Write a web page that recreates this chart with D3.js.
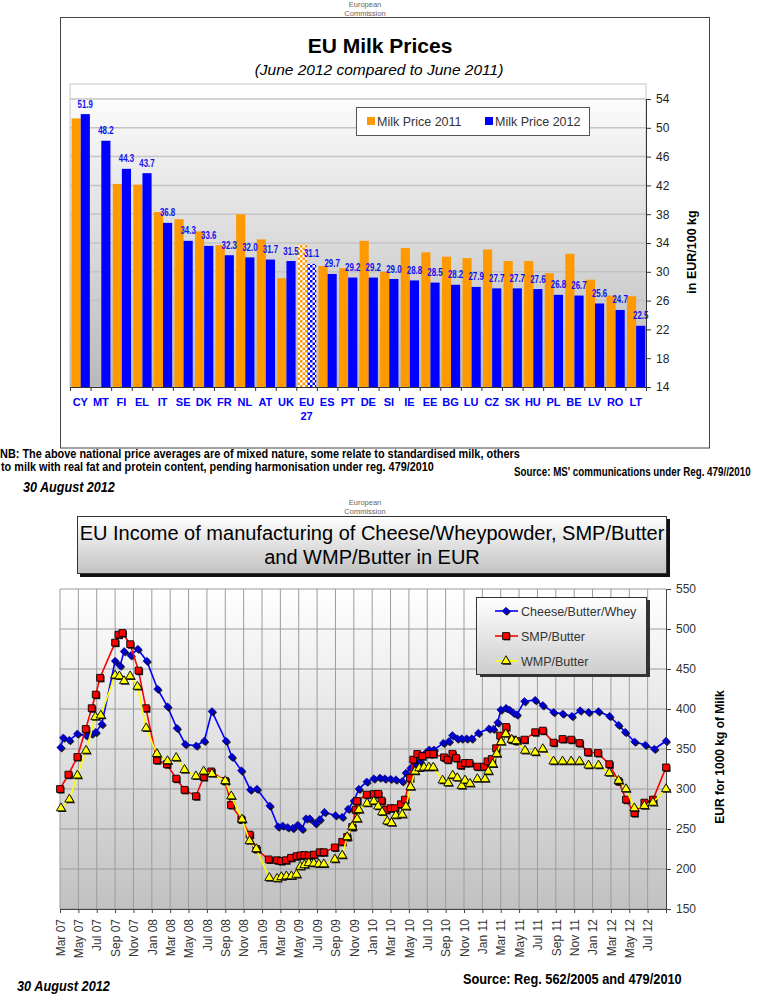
<!DOCTYPE html>
<html><head><meta charset="utf-8">
<script src="https://cdn.jsdelivr.net/npm/d3@7"></script>
<style>
body{margin:0;background:#fff}
svg{display:block}
text{font-family:"Liberation Sans",Arial,sans-serif}
</style>
</head><body>
<svg id="c" width="773" height="1000"></svg>
<script>
// ---------- DATA: EU Milk Prices ----------
const countries = ["CY","MT","FI","EL","IT","SE","DK","FR","NL","AT","UK","EU 27","ES","PT","DE","SI","IE","EE","BG","LU","CZ","SK","HU","PL","BE","LV","RO","LT"];
const price2011 = [51.3,null,42.2,42.1,38.3,37.3,35.6,33.7,38.0,34.5,29.1,33.8,30.8,30.5,34.3,30.0,33.3,32.7,32.1,31.9,33.1,31.5,31.5,29.8,32.5,28.9,26.7,26.6];
const price2012 = [51.9,48.2,44.3,43.7,36.8,34.3,33.6,32.3,32.0,31.7,31.5,31.1,29.7,29.2,29.2,29.0,28.8,28.5,28.2,27.9,27.7,27.7,27.6,26.8,26.7,25.6,24.7,22.5];
const priceSeries = ["Milk Price 2011","Milk Price 2012"];
const priceTicks = [14,18,22,26,30,34,38,42,46,50,54];

// ---------- DATA: EU Income of manufacturing (month offset from Mar 2007, EUR/1000 kg) ----------
const monthLabels = ["Mar 07","May 07","Jul 07","Sep 07","Nov 07","Jan 08","Mar 08","May 08","Jul 08","Sep 08","Nov 08","Jan 09","Mar 09","May 09","Jul 09","Sep 09","Nov 09","Jan 10","Mar 10","May 10","Jul 10","Sep 10","Nov 10","Jan 11","Mar 11","May 11","Jul 11","Sep 11","Nov 11","Jan 12","Mar 12","May 12","Jul 12"];
const incomeTicks = [150,200,250,300,350,400,450,500,550];
const incomeSeries = ["Cheese/Butter/Whey","SMP/Butter","WMP/Butter"];
const cheeseButterWhey = [[0.07,352],[0.36,364],[1.02,361],[1.89,369],[2.84,367],[3.45,369],[3.89,371],[4.55,381],[6.0,460],[6.55,454],[6.98,472],[7.71,467],[8.47,475],[9.45,460],[10.62,425],[11.71,403],[12.73,376],[13.64,356],[14.84,354],[15.71,360],[16.55,397],[18.07,360],[18.73,340],[19.75,323],[20.73,299],[21.45,300],[22.84,279],[23.75,253],[24.25,254],[24.8,252],[25.35,251],[25.89,255],[26.36,250],[26.8,263],[27.2,263],[27.82,257],[28.29,262],[28.8,271],[30.0,267],[30.73,265],[31.38,275],[32.0,285],[32.55,300],[33.4,309],[34.18,313],[34.84,314],[35.38,313],[36.0,312.5],[36.58,311.7],[37.27,309.6],[37.67,320],[38.18,326],[38.65,331],[39.2,334.6],[39.82,345],[40.22,349],[40.73,349],[41.75,357.5],[42.36,359.6],[42.73,367],[43.27,363],[43.75,363],[44.29,363],[44.84,363],[45.56,370],[46.73,375.4],[47.2,375],[47.67,383],[48.0,399],[48.58,401],[48.95,399],[49.38,395],[49.75,393],[50.58,409.6],[51.75,411],[52.58,404.6],[53.75,396],[54.76,394],[55.75,391],[56.65,398],[57.56,396],[58.65,397],[59.85,391],[60.83,380],[61.56,371],[62.58,359],[63.75,355],[64.73,350],[66.0,360]];
const smpButter = [[0,300],[0.91,318],[1.89,340],[2.8,375],[3.45,401],[3.89,418],[4.36,439],[6.0,483],[6.36,493],[6.8,495],[7.64,481],[8.55,448],[9.35,401],[10.55,336],[11.64,331],[12.65,313],[13.56,299],[14.8,291],[15.64,315],[16.47,322],[18.0,310],[18.62,280],[19.75,262],[20.65,243],[21.38,225],[22.73,212],[23.64,211],[24.07,210],[24.62,211],[25.16,214],[25.75,216],[26.18,217],[26.62,217.5],[27.09,217],[27.64,218],[28.29,221],[28.73,221],[29.93,227],[30.73,234],[31.27,240],[31.82,252.5],[32.18,274],[32.36,285],[33.4,293],[34.18,293.75],[34.65,294],[35.02,285.4],[35.49,274],[36.0,276],[36.47,276],[37.13,281],[37.56,286.7],[38.11,313.75],[38.47,336.7],[38.91,343.75],[39.45,341],[40.18,343.75],[40.65,343.75],[41.82,339.6],[42.22,336.7],[42.73,344],[43.13,338.75],[43.64,329.6],[44.11,332.5],[44.58,332.5],[45.45,328],[46.18,328],[46.55,334.6],[47.02,337.5],[47.49,351],[47.93,366.7],[48.58,377.5],[49.2,361.7],[49.75,360],[50.58,361.7],[51.75,371],[52.58,373],[53.75,358],[54.73,362.5],[55.67,361.7],[56.58,357.5],[57.49,346],[58.58,345],[59.82,331],[60.84,309.6],[61.64,286.7],[62.55,270],[63.64,283],[64.58,286.7],[66.0,327]];
const wmpButter = [[0.11,276],[1.02,287],[1.89,317],[2.84,348],[3.85,390],[4.44,392],[6.0,442],[6.47,441],[6.98,435],[7.64,441],[8.44,428],[9.38,376],[10.55,344],[11.71,335],[12.65,339],[13.56,324],[14.8,316],[15.64,322],[16.55,319],[18.0,310],[18.65,291],[19.82,262],[20.65,235],[21.38,225],[22.8,189],[23.64,188],[24.11,190],[24.65,191],[25.2,191],[25.75,193],[26.18,203],[26.62,205],[27.09,207.5],[27.64,207],[28.18,206],[28.73,206],[29.93,212],[30.73,217],[31.27,240],[31.82,253],[32.36,262.5],[32.55,274],[33.45,282],[34.18,284.6],[34.65,278.3],[35.09,271],[35.64,259.6],[36.11,257.5],[36.58,267],[37.27,268],[37.67,278],[38.18,302.5],[38.65,322],[39.13,326],[39.64,327],[40.18,327],[40.65,327],[41.67,310.8],[42.29,307.5],[42.76,317],[43.27,313.75],[43.75,304],[44.11,310.8],[44.65,306.7],[45.45,312.5],[46.29,312.5],[46.65,322],[47.13,331],[47.56,344],[48.04,358.75],[48.55,368.75],[49.2,361.7],[49.67,360],[50.65,348],[51.75,345.8],[52.58,350],[53.75,334.6],[54.73,334.6],[55.67,334.6],[56.58,334.6],[57.56,329.6],[58.65,329.6],[59.82,320],[60.84,310.4],[61.64,300],[62.55,276],[63.64,279],[64.58,283],[66.0,300]];

// ---------- DRAWING ----------
const svg = d3.select("#c");
const defs = svg.append("defs");
function vGrad(id, c1, c2){
  const g = defs.append("linearGradient").attr("id", id).attr("x1",0).attr("y1",0).attr("x2",0).attr("y2",1);
  g.append("stop").attr("offset",0).attr("stop-color",c1);
  g.append("stop").attr("offset",1).attr("stop-color",c2);
}
vGrad("bg1","#ffffff","#b9b9b9");
vGrad("bg2","#ffffff","#c1c1c1");
vGrad("titleBg","#ffffff","#c2c2c2");
vGrad("legBg","#ffffff","#cdcdcd");
function checker(id, color){
  const p = defs.append("pattern").attr("id", id).attr("width",5).attr("height",5).attr("patternUnits","userSpaceOnUse");
  p.append("rect").attr("width",5).attr("height",5).attr("fill","#fff");
  p.append("rect").attr("width",2.5).attr("height",2.5).attr("fill",color);
  p.append("rect").attr("x",2.5).attr("y",2.5).attr("width",2.5).attr("height",2.5).attr("fill",color);
}
const ORANGE = "#ff9900", BLUE = "#0000ff";
checker("chkO", ORANGE);
checker("chkB", BLUE);

// place a text horizontally compressed to a target width (condensed look)
function fitText(parent, str, x, y, width, opts){
  const t = parent.append("text").attr("x",0).attr("y",0).text(str);
  Object.entries(opts||{}).forEach(([k,v])=>t.attr(k,v));
  const len = t.node().getComputedTextLength();
  const anchor = (opts && opts["text-anchor"]) || "start";
  const k = width/len;
  t.attr("transform",`translate(${x},${y}) scale(${k},1)`);
  return t;
}

function ec(cy){
  const g = svg.append("g").attr("fill","#666").attr("font-size",7.5).attr("text-anchor","middle");
  g.append("text").attr("x",365).attr("y",cy).text("European");
  g.append("text").attr("x",365).attr("y",cy+8.5).text("Commission");
}

// ===== TOP CHART =====
ec(7);
svg.append("rect").attr("x",60.5).attr("y",17.5).attr("width",649).attr("height",430.5)
  .attr("fill","none").attr("stroke","#444");
svg.append("text").attr("x",380).attr("y",53).attr("text-anchor","middle")
  .attr("font-size",21).attr("font-weight","bold").attr("fill","#000").text("EU Milk Prices");
svg.append("text").attr("x",379).attr("y",75).attr("text-anchor","middle")
  .attr("font-size",15.5).attr("font-style","italic").attr("fill","#000").text("(June 2012 compared to June 2011)");

const PT = {l:70, r:646, t:84, b:387};
const x0 = d3.scaleBand().domain(countries).range([PT.l, PT.r]);
const x1 = d3.scaleBand().domain(priceSeries).range([1.6, x0.bandwidth()-0.7]);
const yP = d3.scaleLinear().domain([14,54]).range([387,99]);

svg.append("rect").attr("x",PT.l).attr("y",PT.t).attr("width",PT.r-PT.l).attr("height",PT.b-PT.t)
  .attr("fill","url(#bg1)").attr("stroke","#c6c6c6");
svg.append("g").selectAll("line").data(priceTicks.slice(1)).join("line")
  .attr("x1",PT.l).attr("x2",PT.r).attr("y1",d=>yP(d)).attr("y2",d=>yP(d))
  .attr("stroke","#c4c4c4").attr("stroke-width",1.5);

const rows = countries.map((c,i)=>({c, v11:price2011[i], v12:price2012[i]}));
const barsG = svg.append("g");
rows.forEach(r=>{
  const eu = r.c === "EU 27";
  if (r.v11 != null) barsG.append("rect")
    .attr("x", x0(r.c)+x1(priceSeries[0])).attr("width", x1.bandwidth())
    .attr("y", yP(r.v11)).attr("height", yP(14)-yP(r.v11))
    .attr("fill", eu ? "url(#chkO)" : ORANGE);
  barsG.append("rect")
    .attr("x", x0(r.c)+x1(priceSeries[1])).attr("width", x1.bandwidth())
    .attr("y", yP(r.v12)).attr("height", yP(14)-yP(r.v12))
    .attr("fill", eu ? "url(#chkB)" : BLUE);
});
const valG = svg.append("g").attr("font-size",11.5).attr("font-weight","bold").attr("fill","#1010f0");
rows.forEach(d=>{
  const cx = x0(d.c)+x1(priceSeries[1])+x1.bandwidth()/2;
  fitText(valG, d3.format(".1f")(d.v12), cx-7.7, yP(d.v12)-6.5, 15.4);
});

// right y axis
const ayP = svg.append("g").attr("transform",`translate(${PT.r},0)`)
  .call(d3.axisRight(yP).tickValues(priceTicks).tickSize(5).tickPadding(5).tickFormat(d3.format("d")));
ayP.select(".domain").attr("stroke","#333");
ayP.selectAll(".tick line").attr("stroke","#333");
ayP.selectAll("text").attr("font-size",12).attr("fill","#222").attr("font-family","'Liberation Sans',Arial,sans-serif");
// x axis with tick marks at category boundaries
const xb = d3.scaleLinear().domain([0,countries.length]).range([PT.l,PT.r]);
const axb = svg.append("g").attr("transform",`translate(0,${PT.b})`)
  .call(d3.axisBottom(xb).tickValues(d3.range(countries.length+1)).tickSize(4).tickFormat(""));
axb.select(".domain").attr("stroke","#333");
axb.selectAll(".tick line").attr("stroke","#333");
// category labels
const catG = svg.append("g").attr("font-size",11).attr("font-weight","bold").attr("fill","#0000ff").attr("text-anchor","middle");
countries.forEach(c=>{
  const parts = c.split(" ");
  const t = catG.append("text").attr("x", x0(c)+x0.bandwidth()/2).attr("y",406);
  parts.forEach((p,j)=>t.append("tspan").attr("x", x0(c)+x0.bandwidth()/2).attr("dy", j?14:0).text(p));
});
svg.append("text").attr("transform","translate(692,252) rotate(-90)").attr("dy","0.35em")
  .attr("text-anchor","middle").attr("font-size",12.5).attr("font-weight","bold").attr("fill","#000")
  .text("in EUR/100 kg");
// legend
const lg1 = svg.append("g");
lg1.append("rect").attr("x",356.5).attr("y",107.5).attr("width",233).attr("height",28)
  .attr("fill","#fff").attr("stroke","#555");
[[ORANGE,367,priceSeries[0]],[BLUE,485,priceSeries[1]]].forEach(([col,x,lab])=>{
  lg1.append("rect").attr("x",x).attr("y",117).attr("width",8).attr("height",8).attr("fill",col);
  lg1.append("text").attr("x",x+10).attr("y",125.5).attr("font-size",12.5).attr("fill","#333").text(lab);
});
// notes
const nb = svg.append("g").attr("font-weight","bold").attr("font-size",12).attr("fill","#000");
fitText(nb, "NB: The above national price averages are of mixed nature, some relate to standardised milk, others", 0, 458, 520);
fitText(nb, "to milk with real fat and protein content, pending harmonisation  under reg. 479/2010", 1, 471, 433);
fitText(nb, "Source: MS' communications under Reg. 479//2010", 514, 476, 237);
fitText(svg, "30 August 2012", 23, 492, 92, {"font-size":14,"font-weight":"bold","font-style":"italic"});

// ===== BOTTOM CHART =====
ec(505);
svg.append("rect").attr("x",80).attr("y",519).attr("width",590).attr("height",58).attr("fill","#111");
svg.append("rect").attr("x",77.5).attr("y",516.5).attr("width",589).attr("height",57)
  .attr("fill","url(#titleBg)").attr("stroke","#333");
svg.append("text").attr("x",372).attr("y",540).attr("text-anchor","middle").attr("font-size",20).attr("fill","#000")
  .text("EU Income of manufacturing of Cheese/Wheypowder, SMP/Butter");
svg.append("text").attr("x",372).attr("y",564).attr("text-anchor","middle").attr("font-size",20).attr("fill","#000")
  .text("and WMP/Butter in EUR");

const PB = {l:60, r:666, t:589, b:909};
const xM = d3.scaleLinear().domain([0,66]).range([PB.l, PB.r]);
const yI = d3.scaleLinear().domain([150,550]).range([PB.b, PB.t]);
const monthTicks = monthLabels.map((d,i)=>i*2);

svg.append("rect").attr("x",PB.l).attr("y",PB.t).attr("width",PB.r-PB.l).attr("height",PB.b-PB.t).attr("fill","url(#bg2)");
const grid = svg.append("g").attr("stroke","#9c9c9c").attr("stroke-width",1);
grid.selectAll(".h").data(incomeTicks).join("line").attr("class","h")
  .attr("x1",PB.l).attr("x2",PB.r).attr("y1",d=>yI(d)).attr("y2",d=>yI(d));
grid.selectAll(".v").data(monthTicks).join("line").attr("class","v")
  .attr("x1",d=>xM(d)).attr("x2",d=>xM(d)).attr("y1",PB.t).attr("y2",PB.b);

const ayI = svg.append("g").attr("transform",`translate(${PB.r},0)`)
  .call(d3.axisRight(yI).tickValues(incomeTicks).tickSize(5).tickPadding(5));
ayI.select(".domain").attr("stroke","#444");
ayI.selectAll(".tick line").attr("stroke","#444");
ayI.selectAll("text").attr("font-size",12).attr("fill","#333").attr("font-family","'Liberation Sans',Arial,sans-serif");

const axM = svg.append("g").attr("transform",`translate(0,${PB.b})`)
  .call(d3.axisBottom(xM).tickValues(monthTicks).tickSize(4).tickFormat((d,i)=>monthLabels[i]));
axM.select(".domain").attr("stroke","#444");
axM.selectAll(".tick line").attr("stroke","#444");
axM.selectAll("text").attr("font-size",12).attr("fill","#333").attr("font-family","'Liberation Sans',Arial,sans-serif")
  .attr("transform","rotate(-90)").attr("x",-10).attr("y",0).attr("dy","0.35em").attr("text-anchor","end");

svg.append("text").attr("transform","translate(720,757) rotate(-90)").attr("dy","0.35em")
  .attr("text-anchor","middle").attr("font-size",12).attr("font-weight","bold").attr("fill","#000")
  .text("EUR for 1000 kg of Milk");

const line = d3.line().x(d=>xM(d[0])).y(d=>yI(d[1]));
const specs = [
  {data:cheeseButterWhey, color:"#0000ff", mk:"diamond", fill:"#0000cc"},
  {data:smpButter, color:"#ff0000", mk:"square", fill:"#ff0000"},
  {data:wmpButter, color:"#ffff00", mk:"triangle", fill:"#ffff00"}
];
const symFor = {
  diamond: d3.symbol(d3.symbolSquare, 30),
  square: d3.symbol(d3.symbolSquare, 46),
  triangle: d3.symbol(d3.symbolTriangle, 36)
};
const rot = mk => mk==="diamond" ? " rotate(45)" : "";
specs.forEach(s=>{
  const g = svg.append("g");
  g.append("path").datum(s.data).attr("d", line).attr("fill","none").attr("stroke", s.color).attr("stroke-width",1.6);
  g.selectAll(".sh").data(s.data).join("path").attr("class","sh")
    .attr("transform", d=>`translate(${xM(d[0])+1.2},${yI(d[1])+1.2})${rot(s.mk)}`)
    .attr("d", symFor[s.mk]()).attr("fill","#000").attr("opacity",0.85);
  g.selectAll(".mk").data(s.data).join("path").attr("class","mk")
    .attr("transform", d=>`translate(${xM(d[0])},${yI(d[1])})${rot(s.mk)}`)
    .attr("d", symFor[s.mk]()).attr("fill", s.fill)
    .attr("stroke", s.mk==="diamond" ? "#00007a" : "#000").attr("stroke-width", s.mk==="diamond"?0.5:0.9);
});

// legend bottom
const lg2 = svg.append("g");
lg2.append("rect").attr("x",480).attr("y",600).attr("width",170).attr("height",77).attr("fill","#333");
lg2.append("rect").attr("x",476.5).attr("y",597.5).attr("width",170).attr("height",77)
  .attr("fill","url(#legBg)").attr("stroke","#333");
specs.forEach((s,i)=>{
  const cy = 611 + i*25;
  lg2.append("line").attr("x1",495).attr("x2",518).attr("y1",cy).attr("y2",cy).attr("stroke",s.color).attr("stroke-width",1.6);
  lg2.append("path").attr("transform",`translate(${506+1},${cy+1})${rot(s.mk)}`).attr("d",symFor[s.mk]()).attr("fill","#000").attr("opacity",0.85);
  lg2.append("path").attr("transform",`translate(506,${cy})${rot(s.mk)}`).attr("d",symFor[s.mk]()).attr("fill",s.fill)
    .attr("stroke", s.mk==="diamond" ? "#00007a" : "#000").attr("stroke-width", s.mk==="diamond"?0.5:0.9);
  lg2.append("text").attr("x",521).attr("y",cy+4.5).attr("font-size",12.5).attr("fill","#333").text(incomeSeries[i]);
});

fitText(svg, "Source: Reg. 562/2005 and 479/2010", 463, 984, 219, {"font-size":14,"font-weight":"bold"});
fitText(svg, "30 August 2012", 17, 991, 93, {"font-size":14,"font-weight":"bold","font-style":"italic"});
</script>
</body></html>
